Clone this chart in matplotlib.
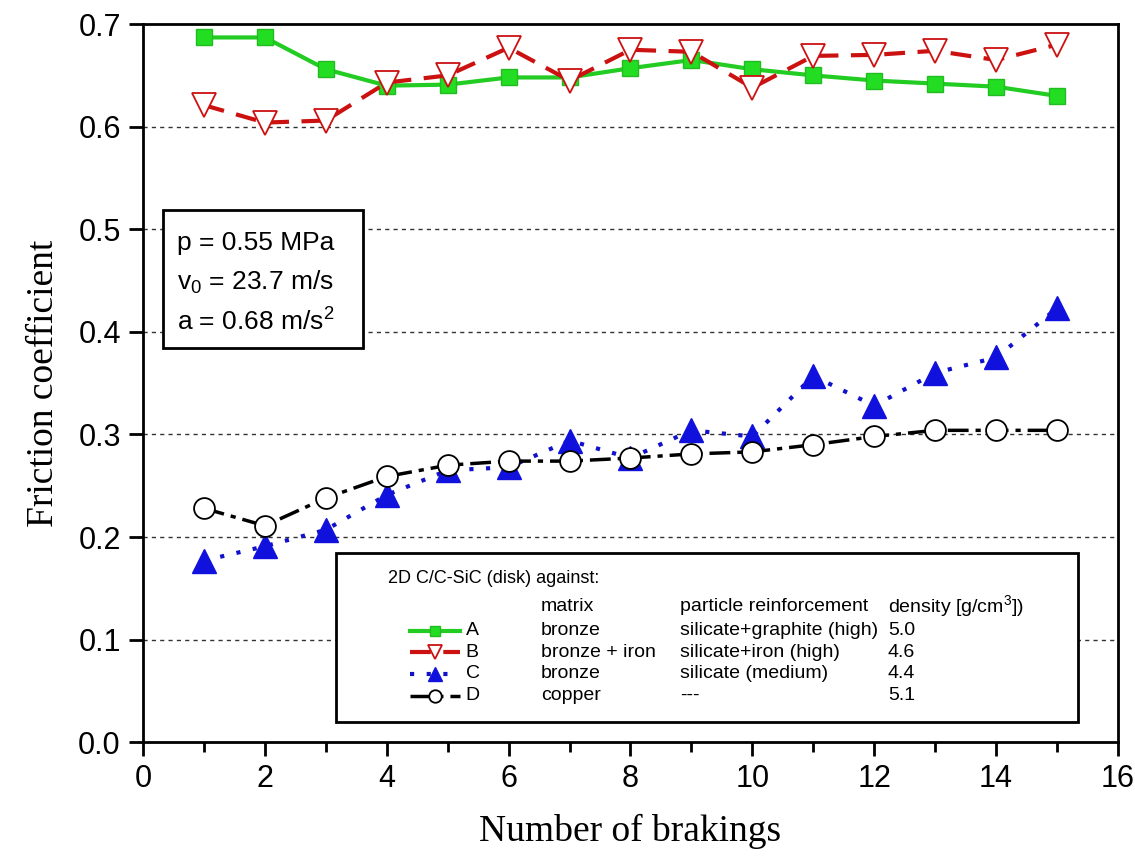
import matplotlib.pyplot as plt
from matplotlib.lines import Line2D
from matplotlib.patches import Rectangle

brakings = list(range(1, 16))
mu_A = [0.687, 0.687, 0.656, 0.640, 0.641, 0.648, 0.648, 0.657, 0.665, 0.656, 0.650, 0.645, 0.642, 0.639, 0.630]
mu_B = [0.621, 0.604, 0.606, 0.643, 0.650, 0.677, 0.645, 0.675, 0.673, 0.638, 0.669, 0.670, 0.674, 0.665, 0.680]
mu_C = [0.177, 0.191, 0.207, 0.241, 0.265, 0.268, 0.294, 0.277, 0.304, 0.298, 0.357, 0.328, 0.360, 0.375, 0.423]
mu_D = [0.228, 0.211, 0.238, 0.259, 0.270, 0.274, 0.274, 0.277, 0.281, 0.283, 0.290, 0.298, 0.304, 0.304, 0.304]

labels = ["A", "B", "C", "D"]
matrix = ["bronze", "bronze + iron", "bronze", "copper"]
reinforcement = ["silicate+graphite (high)", "silicate+iron (high)", "silicate (medium)", "---"]
density = ["5.0", "4.6", "4.4", "5.1"]

sans = ["Liberation Sans", "DejaVu Sans"]
serif = ["Liberation Serif", "DejaVu Serif"]

fig = plt.figure(figsize=(11.35, 8.61), dpi=100)
ax = fig.add_axes([0.126, 0.138, 0.859, 0.834])

styles = [
    dict(color="#22cc22", ls="-", lw=3, marker="s", ms=12, mfc="#22dd22", mec="#22bb22"),
    dict(color="#cc1111", ls=(0, (5, 3)), lw=3, marker="v", ms=17, mfc="white", mec="#cc1111", mew=1.3),
    dict(color="#1111cc", ls=(0, (1, 3)), lw=3, marker="^", ms=17, mfc="#1111dd", mec="#1111dd"),
    dict(color="black", ls=(0, (6, 2, 1.5, 2)), lw=2.5, marker="o", ms=15, mfc="white", mec="black", mew=1.3),
]
series = [mu_A, mu_B, mu_C, mu_D]
# D underneath so the C triangles stay visible
for i in [3, 2, 1, 0]:
    ax.plot(brakings, series[i], zorder=3 + i * 0.1, **styles[i])

for y in [0.1, 0.2, 0.3, 0.4, 0.5, 0.6]:
    ax.axhline(y, color="#333333", lw=1, ls=(0, (3, 3)), zorder=1)

ax.set_xlim(0, 16)
ax.set_ylim(0, 0.7)
ax.set_xticks(range(0, 17, 2))
ax.set_xticks(range(1, 16, 2), minor=True)
ax.set_yticks([0.0, 0.1, 0.2, 0.3, 0.4, 0.5, 0.6, 0.7])
ax.set_yticklabels(["0.0", "0.1", "0.2", "0.3", "0.4", "0.5", "0.6", "0.7"])
ax.tick_params(axis="both", which="major", direction="out", length=10, width=2, labelsize=22, pad=6)
ax.tick_params(axis="x", which="minor", direction="out", length=7, width=2)
for t in ax.get_xticklabels() + ax.get_yticklabels():
    t.set_family(sans)
for s in ax.spines.values():
    s.set_linewidth(2)

ax.set_xlabel("Number of brakings", fontsize=27, family=serif, labelpad=14)
ax.set_ylabel("Friction coefficient", fontsize=27, family=serif, labelpad=12)

# parameter box
ax.add_patch(Rectangle((0.0205, 0.549), 0.205, 0.192, transform=ax.transAxes,
                       fill=True, fc="white", ec="black", lw=2, zorder=5))
params = ["p = 0.55 MPa", r"v$\mathregular{_0}$ = 23.7 m/s", r"a = 0.68 m/s$\mathregular{^2}$"]
for k, txt in enumerate(params):
    ax.text(0.035, 0.695 - k * 0.055, txt, transform=ax.transAxes, fontsize=19,
            family=sans, va="center", ha="left", zorder=6)

# legend table
ax.add_patch(Rectangle((0.198, 0.028), 0.761, 0.235, transform=ax.transAxes,
                       fill=True, fc="white", ec="black", lw=2, zorder=5))
fs = 14
ax.text(0.251, 0.228, "2D C/C-SiC (disk) against:", transform=ax.transAxes, fontsize=13,
        family=sans, va="center", zorder=6)
rows_y = [0.155, 0.125, 0.095, 0.065]
head_y = 0.189
ax.text(0.408, head_y, "matrix", transform=ax.transAxes, fontsize=fs, family=sans, va="center", zorder=6)
ax.text(0.551, head_y, "particle reinforcement", transform=ax.transAxes, fontsize=fs, family=sans, va="center", zorder=6)
ax.text(0.764, head_y, r"density [g/cm$\mathregular{^3}$])", transform=ax.transAxes, fontsize=fs, family=sans, va="center", zorder=6)
for i, yy in enumerate(rows_y):
    st = dict(styles[i])
    st["ms"] = st["ms"] * 0.6
    ax.add_line(Line2D([0.274, 0.3, 0.325], [yy, yy, yy], transform=ax.transAxes,
                       markevery=[1], zorder=6, **st))
    ax.text(0.331, yy, labels[i], transform=ax.transAxes, fontsize=fs, family=sans, va="center", zorder=6)
    ax.text(0.408, yy, matrix[i], transform=ax.transAxes, fontsize=fs, family=sans, va="center", zorder=6)
    ax.text(0.551, yy, reinforcement[i], transform=ax.transAxes, fontsize=fs, family=sans, va="center", zorder=6)
    ax.text(0.764, yy, density[i], transform=ax.transAxes, fontsize=fs, family=sans, va="center", zorder=6)

fig.savefig("out.png", dpi=100)
